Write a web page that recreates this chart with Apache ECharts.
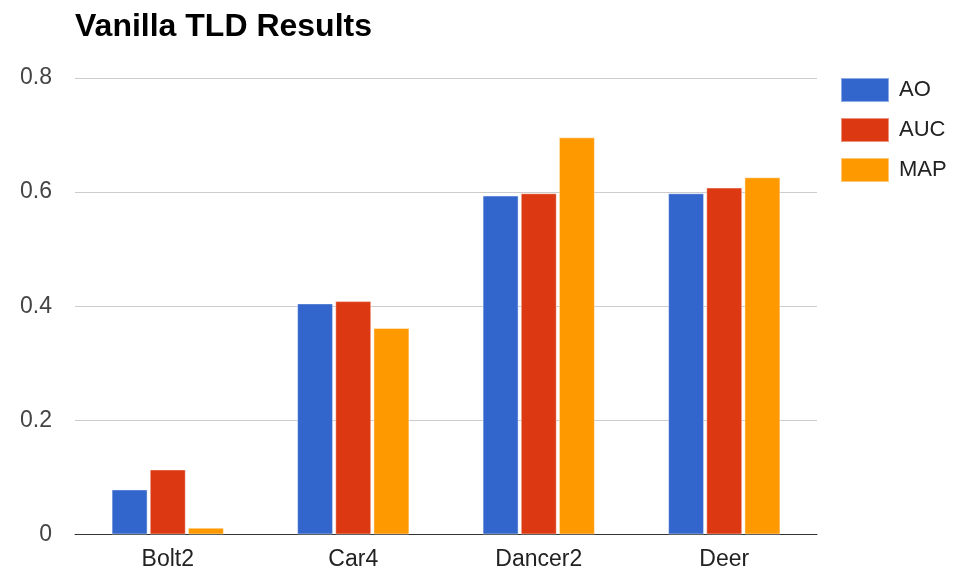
<!DOCTYPE html>
<html>
<head>
<meta charset="utf-8">
<title>Vanilla TLD Results</title>
<script src="https://cdn.jsdelivr.net/npm/echarts@6/dist/echarts.min.js"></script>
<style>
  html, body { margin: 0; padding: 0; background: #fff; }
  #chart { width: 953px; height: 573px; }
</style>
</head>
<body>
<div id="chart"></div>
<script>
// data
var categories = ['Bolt2', 'Car4', 'Dancer2', 'Deer'];
var aoValues = [0.079, 0.405, 0.594, 0.598];
var aucValues = [0.114, 0.409, 0.598, 0.608];
var mapValues = [0.012, 0.362, 0.696, 0.626];
var yTicks = [0, 0.2, 0.4, 0.6, 0.8];

var font = 'Liberation Sans, Arial, sans-serif';
var chart = echarts.init(document.getElementById('chart'));

function barSeries(name, color, data) {
    return {
        name: name,
        type: 'bar',
        data: data,
        barWidth: 36,
        barGap: '6%',
        itemStyle: { color: color, borderColor: 'rgba(255,255,255,0.45)', borderWidth: 1 }
    };
}

var option = {
    animation: false,
    title: {
        text: 'Vanilla TLD Results',
        left: 75,
        top: 11,
        padding: 0,
        textStyle: { fontFamily: font, fontSize: 32, fontWeight: 'bold', color: '#000' }
    },
    legend: {
        orient: 'vertical',
        left: 840,
        top: 77,
        padding: 0,
        itemWidth: 48,
        itemHeight: 24,
        itemGap: 14,
        icon: 'rect',
        textStyle: { fontFamily: font, fontSize: 22, color: '#222', padding: [0, 0, 0, 5] },
        data: ['AO', 'AUC', 'MAP']
    },
    grid: { left: 75, right: 136, top: 78, bottom: 38.5 },
    xAxis: {
        type: 'category',
        data: categories,
        axisTick: { show: false },
        axisLine: { lineStyle: { color: '#333', width: 1 } },
        axisLabel: { fontFamily: font, fontSize: 23, color: '#222', margin: 14 }
    },
    yAxis: {
        type: 'value',
        min: yTicks[0],
        max: yTicks[yTicks.length - 1],
        interval: 0.2,
        axisLine: { show: false },
        axisTick: { show: false },
        splitLine: { lineStyle: { color: '#ccc', width: 1 } },
        axisLabel: {
            fontFamily: font, fontSize: 23, color: '#444', margin: 23,
            formatter: function (v) { return v === 0 ? '0' : v.toFixed(1); }
        }
    },
    series: [
        barSeries('AO', '#3366cc', aoValues),
        barSeries('AUC', '#dc3912', aucValues),
        barSeries('MAP', '#ff9900', mapValues)
    ]
};

chart.setOption(option);
</script>
</body>
</html>
